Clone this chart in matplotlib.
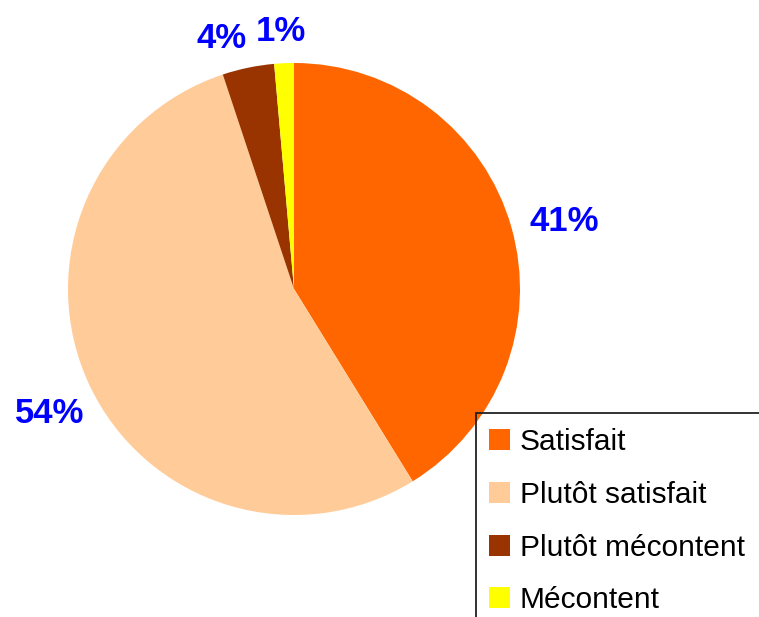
import numpy as np
import matplotlib
matplotlib.use('Agg')
import matplotlib.pyplot as plt
from matplotlib.patches import Rectangle

plt.rcParams['font.family'] = ['Liberation Sans', 'DejaVu Sans']

# Data
categories = ['Satisfait', 'Plutôt satisfait', 'Plutôt mécontent', 'Mécontent']
shares = [41.2, 53.7, 3.7, 1.4]
colors = ['#FF6600', '#FFCC99', '#993300', '#FFFF00']
# label placement: distance in pie radii, and angle nudge in degrees
label_dist = [1.235, 1.205, 1.17, 1.155]
label_nudge = [-1.0, 1.4, 4.3, 0.3]

W, H = 759, 617
fig = plt.figure(figsize=(W / 100, H / 100), dpi=100)

# pie: centre (294, 289), radius 226 px
cx, cy, r = 294, 289, 226
ax = fig.add_axes([(cx - r) / W, (H - cy - r) / H, 2 * r / W, 2 * r / H])
wedges, _ = ax.pie(shares, colors=colors, startangle=90, counterclock=False,
                   radius=1, wedgeprops={'linewidth': 0})
ax.set_xlim(-1, 1)
ax.set_ylim(-1, 1)
ax.set_aspect('equal')
ax.axis('off')

# percentage labels outside the slices
for w, s, d, n in zip(wedges, shares, label_dist, label_nudge):
    ang = np.deg2rad((w.theta1 + w.theta2) / 2 + n)
    ax.text(d * np.cos(ang), d * np.sin(ang), f'{s:.0f}%',
            ha='center', va='center_baseline', color='#0000FF',
            fontsize=25, fontweight='bold', clip_on=False)

# legend box runs off the right and bottom edges
fig.patches.append(Rectangle((476 / W, -0.1), 1.0, (H - 413) / H + 0.1,
                             transform=fig.transFigure, fill=False,
                             edgecolor='#222222', linewidth=1.3))

leg = fig.legend(wedges, categories, loc='upper left',
                 bbox_to_anchor=(489 / W, 1 - 428 / H),
                 fontsize=21.5, frameon=False,
                 borderpad=0, handlelength=0.7, handleheight=0.7,
                 handletextpad=0.33, labelspacing=0.83,
                 borderaxespad=0)

fig.savefig('out.png', dpi=100)
